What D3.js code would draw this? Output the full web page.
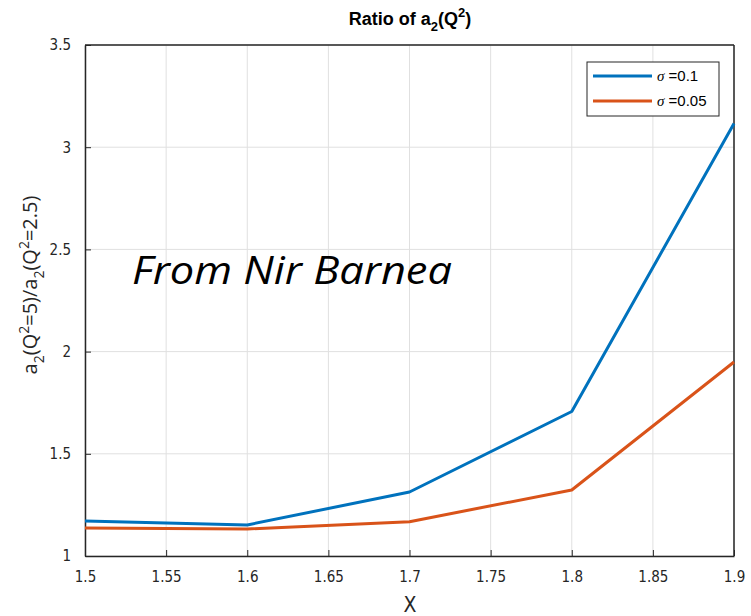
<!DOCTYPE html>
<html><head><meta charset="utf-8">
<script src="https://cdn.jsdelivr.net/npm/d3@7"></script>
<style>body{margin:0;background:#fff}svg{display:block}</style>
</head><body>
<svg id="c" width="751" height="616"></svg>
<script>
const xValues = [1.5, 1.6, 1.7, 1.8, 1.9];
const sigma01 = [1.171, 1.152, 1.313, 1.707, 3.116];
const sigma005 = [1.137, 1.132, 1.168, 1.323, 1.949];
const seriesNames = ["σ =0.1", "σ =0.05"];
const seriesColors = ["#0072BD", "#D95319"];
const xTicks = [1.5, 1.55, 1.6, 1.65, 1.7, 1.75, 1.8, 1.85, 1.9];
const yTicks = [1, 1.5, 2, 2.5, 3, 3.5];

const svg = d3.select("#c");
const L = 85, R = 734, T = 45, B = 556;
const x = d3.scaleLinear().domain([1.5, 1.9]).range([L, R]);
const y = d3.scaleLinear().domain([1, 3.5]).range([B, T]);

// grid
svg.append("g").selectAll("line").data(xTicks).join("line")
  .attr("x1", d => x(d)).attr("x2", d => x(d)).attr("y1", T).attr("y2", B)
  .attr("stroke", "#e0e0e0").attr("stroke-width", 1);
svg.append("g").selectAll("line").data(yTicks).join("line")
  .attr("x1", L).attr("x2", R).attr("y1", d => y(d)).attr("y2", d => y(d))
  .attr("stroke", "#e0e0e0").attr("stroke-width", 1);

// watermark
svg.append("text").attr("x", 132).attr("y", 284)
  .attr("font-family", "Open Sans, sans-serif").attr("font-style", "italic")
  .attr("font-size", 39).attr("fill", "#000")
  .attr("textLength", 320).attr("lengthAdjust", "spacingAndGlyphs").text("From Nir Barnea");

// axes
const xAxis = d3.axisBottom(x).tickValues(xTicks).tickSizeInner(-6).tickSizeOuter(0).tickPadding(15).tickFormat(d3.format("~g"));
const yAxis = d3.axisLeft(y).tickValues(yTicks).tickSizeInner(-6).tickSizeOuter(0).tickPadding(14).tickFormat(d3.format("~g"));
const gx = svg.append("g").attr("transform", `translate(0,${B})`).call(xAxis);
const gy = svg.append("g").attr("transform", `translate(${L},0)`).call(yAxis);
[gx, gy].forEach(g => {
  g.select(".domain").attr("stroke", "#262626").attr("stroke-width", 1.5);
  g.selectAll(".tick line").attr("stroke", "#262626");
  g.selectAll(".tick text").attr("fill", "#262626").attr("font-family", "DejaVu Sans Condensed, DejaVu Sans, sans-serif").attr("font-size", 15);
});
// top and right box
svg.append("line").attr("x1", L).attr("x2", R).attr("y1", T).attr("y2", T).attr("stroke", "#262626").attr("stroke-width", 1.5);
svg.append("line").attr("x1", R).attr("x2", R).attr("y1", T).attr("y2", B).attr("stroke", "#262626").attr("stroke-width", 1.5);

// lines
const line = d3.line().x((d, i) => x(xValues[i])).y(d => y(d));
[sigma01, sigma005].forEach((s, k) => {
  svg.append("path").datum(s).attr("d", line).attr("fill", "none")
    .attr("stroke", seriesColors[k]).attr("stroke-width", 3).attr("stroke-linejoin", "round");
});

// legend
const lg = svg.append("g");
lg.append("rect").attr("x", 587).attr("y", 62).attr("width", 132).attr("height", 54)
  .attr("fill", "#fff").attr("stroke", "#262626").attr("stroke-width", 1);
seriesNames.forEach((n, k) => {
  const yy = 76 + k * 25;
  lg.append("line").attr("x1", 593).attr("x2", 652).attr("y1", yy).attr("y2", yy)
    .attr("stroke", seriesColors[k]).attr("stroke-width", 3);
  const t = lg.append("text").attr("x", 657).attr("y", yy + 5).attr("font-size", 15).attr("fill", "#000")
    .attr("font-family", "Liberation Sans, sans-serif");
  t.append("tspan").attr("font-family", "Liberation Serif, serif").attr("font-style", "italic").text("σ");
  t.append("tspan").text(" =" + n.split("=")[1]);
});

// title
const title = svg.append("text").attr("x", 410).attr("y", 25).attr("text-anchor", "middle")
  .attr("font-family", "Liberation Sans Narrow, Liberation Sans, sans-serif").attr("font-weight", "bold").attr("font-size", 18).attr("fill", "#000");
title.append("tspan").text("Ratio of a");
title.append("tspan").attr("font-size", 13).attr("dy", 6).text("2");
title.append("tspan").attr("dy", -6).text("(Q");
title.append("tspan").attr("font-size", 13).attr("dy", -8).text("2");
title.append("tspan").attr("dy", 8).text(")");

// x label
svg.append("text").attr("x", 410).attr("y", 612).attr("text-anchor", "middle")
  .attr("font-family", "DejaVu Sans Condensed, sans-serif").attr("font-size", 21).attr("fill", "#262626").text("X");

// y label
const yl = svg.append("text").attr("transform", "translate(37,285) rotate(-90)").attr("text-anchor", "middle")
  .attr("font-family", "Open Sans, sans-serif").attr("font-size", 20).attr("fill", "#262626");
yl.append("tspan").text("a");
yl.append("tspan").attr("font-size", 14).attr("dy", 7).text("2");
yl.append("tspan").attr("dy", -7).text("(Q");
yl.append("tspan").attr("font-size", 14).attr("dy", -8).text("2");
yl.append("tspan").attr("dy", 8).text("=5)/a");
yl.append("tspan").attr("font-size", 14).attr("dy", 7).text("2");
yl.append("tspan").attr("dy", -7).text("(Q");
yl.append("tspan").attr("font-size", 14).attr("dy", -8).text("2");
yl.append("tspan").attr("dy", 8).text("=2.5)");
</script>
</body></html>
